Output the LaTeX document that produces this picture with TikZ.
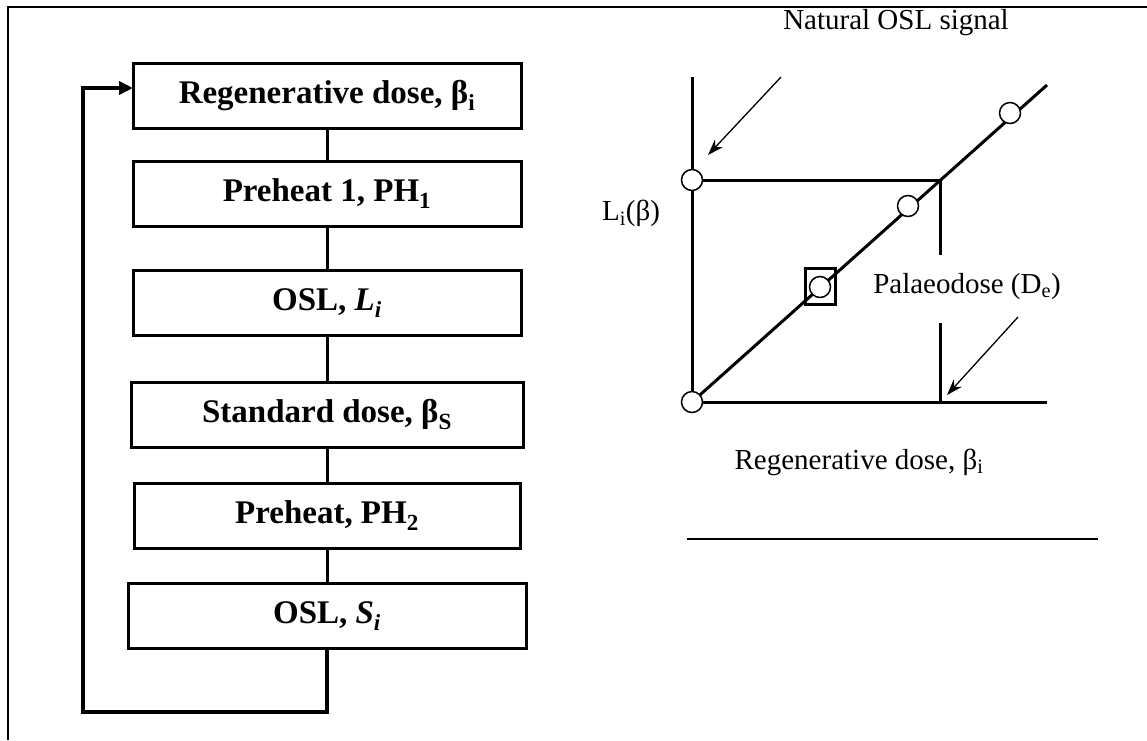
\documentclass[tikz,border=0pt]{standalone}
\usepackage{fontspec}
\setmainfont{Liberation Serif}
\usetikzlibrary{arrows.meta}
\begin{document}
\begin{tikzpicture}[x=1pt,y=-1pt,
  stepbox/.style={draw,line width=3pt,minimum height=65pt,inner sep=0pt,font=\fontsize{33}{38}\selectfont\bfseries},
  link/.style={line width=3pt},
  axisline/.style={line width=3pt},
  dot/.style={circle,draw,fill=white,line width=1.5pt,minimum size=21pt,inner sep=0pt},
  pointer/.style={line width=1.3pt,-{Stealth[length=16pt,width=11pt]}},
  lbl/.style={font=\fontsize{29}{34}\selectfont,inner sep=0pt}]
\useasboundingbox (0,0) rectangle (1147,740);
% frame
\draw[line width=2pt] (1147,7) -- (8,7) -- (8,740);
% flow boxes
\node[stepbox,minimum width=388pt] (b1) at (327,95.5) {Regenerative dose, β\textsubscript{i}};
\node[stepbox,minimum width=388pt] (b2) at (327,193.5) {Preheat 1, PH\textsubscript{1}};
\node[stepbox,minimum width=388pt] (b3) at (327,303) {OSL, \textit{L}\textsubscript{\textit{i}}};
\node[stepbox,minimum width=392pt] (b4) at (327,414.5) {Standard dose, β\textsubscript{S}};
\node[stepbox,minimum width=386pt] (b5) at (327,515.5) {Preheat, PH\textsubscript{2}};
\node[stepbox,minimum width=398pt] (b6) at (327,616) {OSL, \textit{S}\textsubscript{\textit{i}}};
\draw[link] (b1) -- (b2);
\draw[link] (b2) -- (b3);
\draw[link] (b3) -- (b4);
\draw[link] (b4) -- (b5);
\draw[link] (b5) -- (b6);
\coordinate (lb) at (327,712);
\coordinate (ll) at (83,712);
\coordinate (lt) at (83,88);
\coordinate (la) at (133,88);
\draw[link,line width=3.5pt,-{Triangle[length=14pt,width=13pt]}] (b6.south) -- (lb) -- (ll) -- (lt) -- (la);
% graph
\coordinate (O) at (692,402);
\coordinate (ytop) at (692,77);
\coordinate (xend) at (1047,402);
\coordinate (dend) at (1047,85);
\coordinate (N) at (692,180);
\coordinate (X) at (940,180);
\coordinate (v1) at (940,255);
\coordinate (v2) at (940,323);
\coordinate (vb) at (940,402);
\draw[axisline] (ytop) -- (O) -- (xend);
\draw[axisline] (O) -- (dend);
\draw[axisline] (N) -- (X) -- (v1);
\draw[axisline] (v2) -- (vb);
\node[draw,line width=3pt,minimum width=30pt,minimum height=36pt,inner sep=0pt] (sq) at (820,286) {};
\node[dot] (c0) at (O) {};
\node[dot] (cn) at (N) {};
\node[dot] (c1) at (820,287) {};
\node[dot] (c2) at (908,206) {};
\node[dot] (c3) at (1010,113) {};
% labels
\node[lbl] (tn) at (896,23) {Natural OSL signal};
\node[lbl] (tl) at (631,213) {L\textsubscript{i}(β)};
\node[lbl] (tp) at (967,287) {Palaeodose (D\textsubscript{e})};
\node[lbl] (tx) at (859,462) {Regenerative dose, β\textsubscript{i}};
\coordinate (a1s) at (781,77);
\coordinate (a1e) at (708,155);
\coordinate (a2s) at (1018,317);
\coordinate (a2e) at (947,395);
\draw[pointer] (a1s) -- (a1e);
\draw[pointer] (a2s) -- (a2e);
\coordinate (r1) at (687,539);
\coordinate (r2) at (1098,539);
\draw[line width=2pt] (r1) -- (r2);
\end{tikzpicture}
\end{document}
